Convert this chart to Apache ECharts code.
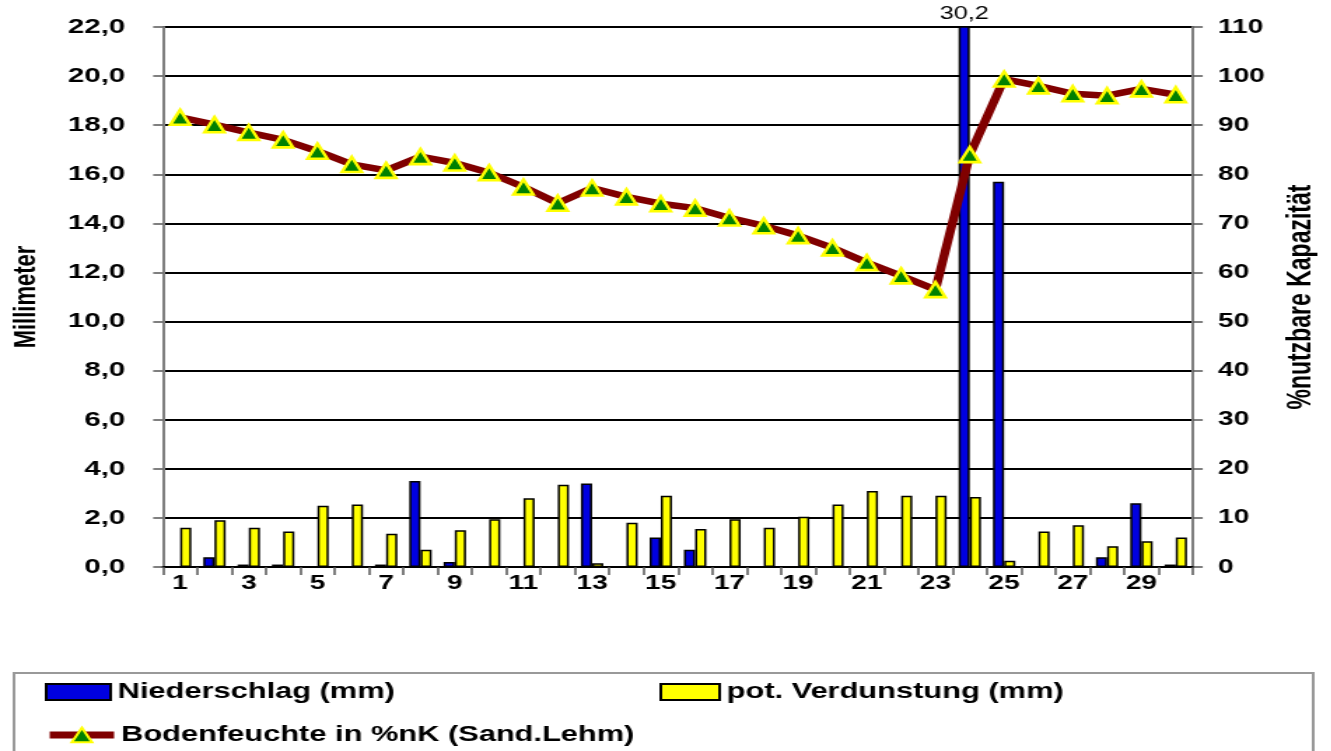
<!DOCTYPE html>
<html>
<head>
<meta charset="utf-8">
<script src="https://cdn.jsdelivr.net/npm/echarts@6/dist/echarts.min.js"></script>
<style>
html,body{margin:0;padding:0;background:#fff;overflow:hidden;width:1331px;height:751px;}
#wrap{width:951px;height:751px;transform:scaleX(1.4);transform-origin:0 0;}
</style>
</head>
<body>
<div id="wrap"></div>
<script>
const days = ['1','2','3','4','5','6','7','8','9','10','11','12','13','14','15','16','17','18','19','20','21','22','23','24','25','26','27','28','29','30'];
const niederschlag = [0,0.4,0.1,0.1,0,0,0.1,3.5,0.2,0,0,0,3.4,0,1.2,0.7,0,0,0,0,0,0,0,30.2,15.7,0,0,0.4,2.6,0.1];
const verdunstung = [1.6,1.9,1.6,1.45,2.5,2.55,1.35,0.7,1.5,1.95,2.8,3.35,0.15,1.8,2.9,1.55,1.95,1.6,2.05,2.55,3.1,2.9,2.9,2.85,0.25,1.45,1.7,0.85,1.05,1.2];
const bodenfeuchte = [91.6,90.1,88.5,87.0,84.7,82.0,80.8,83.6,82.3,80.3,77.4,74.1,77.2,75.4,74.0,73.1,71.1,69.5,67.5,65.0,62.0,59.3,56.5,84.0,99.4,98.0,96.4,96.0,97.4,96.2];
const leftMax = 22, leftInterval = 2;
const rightMax = 110, rightInterval = 10;

const FONT = 'Liberation Sans, Arial, sans-serif';
const chart = echarts.init(document.getElementById('wrap'), null, {renderer: 'canvas'});
const lbl = (size) => ({fontFamily: FONT, fontWeight: 'bold', fontSize: size, color: '#000'});
const legText = {fontFamily: FONT, fontWeight: 'bold', fontSize: 22, color: '#000'};

chart.setOption({
  animation: false,
  backgroundColor: '#fff',
  grid: {left: 116.4, right: 98.9, top: 27, bottom: 184, containLabel: false},
  xAxis: {
    type: 'category',
    data: days,
    axisLine: {lineStyle: {color: '#000', width: 2}},
    axisTick: {show: true, interval: 0, length: 8, lineStyle: {color: '#555', width: 1.5}},
    axisLabel: Object.assign({interval: 1, margin: 6}, lbl(20)),
    splitLine: {show: false}
  },
  yAxis: [{
    type: 'value', min: 0, max: leftMax, interval: leftInterval,
    name: 'Millimeter', nameLocation: 'middle', nameGap: 86,
    nameTextStyle: {fontFamily: FONT, fontWeight: 'bold', fontSize: 22, color: '#000'},
    axisLine: {show: true, lineStyle: {color: '#808080', width: 2}},
    axisTick: {show: true, length: 7, lineStyle: {color: '#555', width: 1.5}},
    axisLabel: Object.assign({margin: 27, formatter: v => v.toFixed(1).replace('.', ',')}, lbl(21)),
    splitLine: {show: true, lineStyle: {color: '#000', width: 2}}
  }, {
    type: 'value', min: 0, max: rightMax, interval: rightInterval, position: 'right',
    name: '%nutzbare Kapazität', nameLocation: 'middle', nameGap: 66,
    nameTextStyle: {fontFamily: FONT, fontWeight: 'bold', fontSize: 23, color: '#000'},
    axisLine: {show: true, lineStyle: {color: '#808080', width: 2}},
    axisTick: {show: true, length: 7, lineStyle: {color: '#555', width: 1.5}},
    axisLabel: Object.assign({margin: 18, formatter: v => String(v)}, lbl(20)),
    splitLine: {show: false}
  }],
  legend: [{
    data: [{name: 'Niederschlag (mm)', icon: 'rect'}], left: 32, top: 681, padding: 0,
    itemWidth: 46, itemHeight: 16,
    textStyle: legText
  }, {
    data: [{name: 'pot. Verdunstung (mm)', icon: 'rect'}], left: 471, top: 681, padding: 0,
    itemWidth: 42, itemHeight: 16,
    textStyle: legText
  }, {
    data: ['Bodenfeuchte in %nK (Sand.Lehm)'], left: 32, top: 724, padding: 0,
    itemWidth: 46, itemHeight: 18,
    lineStyle: {width: 7, color: '#800000'},
    textStyle: legText
  }],
  graphic: [{
    type: 'rect', left: 9, top: 672, z: -1,
    shape: {width: 928, height: 120},
    style: {fill: '#fff', stroke: '#999', lineWidth: 2}
  }],
  series: [{
    name: 'Niederschlag (mm)', type: 'bar', yAxisIndex: 0,
    data: niederschlag.map((v, i) => i === 23 ? {value: v, label: {show: true}} : v),
    barWidth: 8, barGap: '0%',
    itemStyle: {color: '#0000e0', borderColor: '#000', borderWidth: 1.5},
    label: {show: false, position: 'top', distance: 3, fontFamily: FONT, fontSize: 18, color: '#000',
      formatter: p => String(p.value).replace('.', ',')},
    z: 2
  }, {
    name: 'pot. Verdunstung (mm)', type: 'bar', yAxisIndex: 0,
    data: verdunstung,
    barWidth: 8, barGap: '0%',
    itemStyle: {color: '#ffff00', borderColor: '#000', borderWidth: 1.5},
    z: 2
  }, {
    name: 'Bodenfeuchte in %nK (Sand.Lehm)', type: 'line', yAxisIndex: 1,
    data: bodenfeuchte,
    lineStyle: {color: '#800000', width: 6.5},
    symbol: 'triangle', symbolSize: [14, 15],
    itemStyle: {color: '#008000', borderColor: '#ffff00', borderWidth: 2.5},
    z: 5
  }]
});
</script>
</body>
</html>
